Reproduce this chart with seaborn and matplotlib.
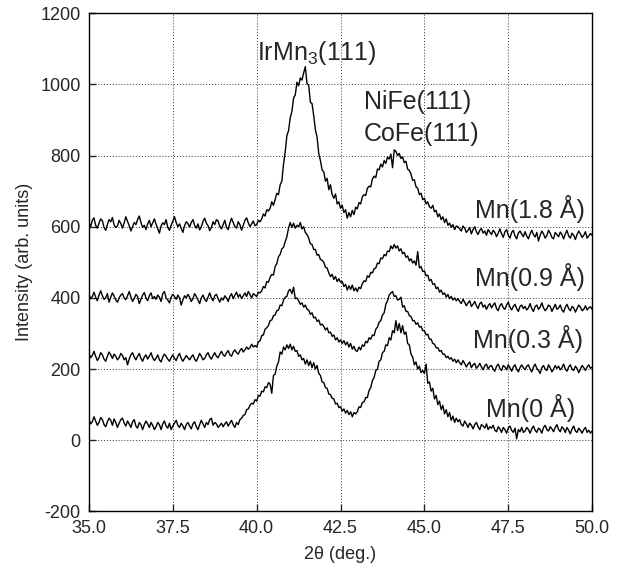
import numpy as np
import pandas as pd
import seaborn as sns
import matplotlib
matplotlib.use("Agg")
import matplotlib.pyplot as plt
from matplotlib.ticker import MultipleLocator, StrMethodFormatter

# XRD scans of the stacks, 2theta from 35 to 50 deg in 0.05 deg steps
two_theta = np.linspace(35.0, 50.0, 301)

mn_18 = [
    612, 600, 618, 625, 604, 596, 610, 622, 617, 598, 590, 606, 620, 614, 626, 605, 598, 602, 618, 609,
    596, 611, 628, 615, 603, 588, 600, 612, 606, 620, 630, 612, 598, 604, 592, 608, 618, 600, 611, 622,
    607, 595, 582, 602, 611, 606, 620, 598, 590, 604, 615, 628, 612, 600, 608, 596, 584, 603, 614, 609,
    599, 612, 620, 604, 596, 608, 591, 600, 615, 624, 610, 603, 589, 598, 614, 606, 620, 616, 601, 594,
    606, 618, 598, 592, 610, 624, 612, 600, 596, 614, 606, 590, 604, 618, 625, 611, 600, 608, 616, 603,
    606, 618, 614, 622, 636, 630, 648, 644, 652, 670, 660, 676, 694, 690, 718, 728, 776, 810, 856, 870,
    906, 924, 962, 970, 1006, 996, 1018, 1012, 1032, 1050, 1002, 998, 950, 946, 912, 872, 852, 806, 786, 760,
    754, 728, 736, 704, 718, 690, 680, 692, 664, 670, 652, 660, 640, 648, 624, 640, 628, 646, 634, 655,
    650, 668, 664, 684, 690, 688, 708, 714, 712, 734, 742, 738, 762, 760, 776, 768, 786, 778, 796, 790,
    804, 766, 816, 812, 800, 806, 792, 796, 780, 784, 762, 758, 748, 730, 732, 712, 708, 690, 694, 676,
    680, 664, 670, 656, 652, 660, 642, 646, 628, 636, 620, 628, 612, 622, 604, 610, 598, 606, 592, 602,
    600, 594, 588, 602, 596, 584, 590, 598, 580, 592, 600, 586, 578, 590, 595, 582, 588, 576, 592, 585,
    578, 590, 584, 572, 582, 594, 580, 570, 586, 592, 576, 568, 584, 590, 574, 566, 582, 588, 579, 572,
    586, 574, 566, 580, 590, 578, 571, 584, 560, 576, 588, 580, 568, 575, 590, 582, 570, 566, 584, 578,
    572, 585, 578, 566, 580, 590, 574, 568, 582, 576, 564, 578, 588, 580, 570, 576, 586, 568, 574, 581,
    576,
]

mn_09 = [
    410, 398, 404, 416, 402, 392, 408, 420, 406, 396, 400, 412, 388, 402, 414, 405, 394, 388, 400, 408,
    412, 400, 395, 406, 418, 403, 390, 398, 410, 404, 384, 396, 408, 415, 400, 392, 406, 414, 398, 404,
    396, 408, 402, 390, 412, 418, 400, 394, 386, 402, 410, 404, 396, 408, 400, 380, 394, 406, 400, 410,
    402, 390, 398, 412, 404, 394, 384, 400, 408, 396, 390, 402, 414, 400, 392, 406, 410, 398, 388, 400,
    394, 406, 400, 390, 404, 412, 398, 408, 416, 402, 410, 398, 406, 414, 404, 418, 410, 400, 412, 408,
    404, 416, 414, 420, 432, 428, 446, 444, 458, 466, 464, 488, 496, 516, 522, 538, 542, 558, 572, 596,
    612, 598, 610, 596, 604, 600, 612, 594, 600, 584, 578, 568, 552, 550, 536, 536, 520, 522, 508, 506,
    500, 486, 484, 470, 460, 466, 452, 460, 446, 454, 444, 446, 432, 438, 422, 434, 424, 436, 420, 428,
    418, 430, 426, 440, 448, 446, 462, 458, 472, 470, 482, 484, 498, 496, 512, 510, 522, 518, 532, 530,
    546, 538, 550, 540, 546, 532, 538, 524, 528, 514, 518, 504, 510, 498, 504, 492, 530, 484, 488, 474,
    476, 462, 464, 448, 452, 438, 440, 426, 430, 416, 422, 410, 414, 402, 410, 398, 404, 394, 400, 392,
    398, 390, 384, 396, 388, 378, 386, 392, 376, 382, 390, 378, 370, 384, 388, 374, 380, 368, 378, 384,
    372, 380, 386, 370, 364, 378, 384, 372, 368, 380, 388, 374, 366, 376, 382, 370, 362, 376, 380, 370,
    376, 366, 372, 384, 370, 362, 376, 380, 368, 374, 386, 372, 364, 370, 380, 376, 362, 372, 382, 368,
    372, 380, 366, 360, 374, 382, 370, 364, 376, 372, 360, 370, 380, 374, 364, 368, 378, 366, 372, 375,
    368,
]

mn_03 = [
    244, 232, 238, 250, 236, 224, 232, 246, 240, 228, 222, 236, 248, 240, 230, 242, 236, 226, 232, 244,
    238, 226, 232, 212, 228, 240, 246, 234, 226, 236, 244, 230, 222, 234, 240, 228, 236, 246, 232, 224,
    230, 240, 226, 220, 234, 242, 236, 228, 222, 232, 240, 230, 224, 236, 244, 230, 222, 230, 238, 232,
    226, 234, 240, 228, 222, 232, 244, 236, 226, 230, 240, 246, 234, 228, 238, 246, 236, 232, 242, 250,
    240, 236, 246, 252, 240, 236, 248, 254, 246, 242, 252, 258, 248, 254, 262, 256, 260, 270, 262, 266,
    262, 276, 280, 294, 296, 312, 316, 322, 336, 338, 350, 352, 364, 366, 380, 378, 394, 402, 404, 420,
    424, 412, 430, 398, 400, 392, 382, 386, 374, 380, 368, 366, 354, 358, 344, 346, 334, 338, 324, 326,
    320, 310, 316, 302, 304, 292, 296, 282, 288, 276, 282, 272, 280, 268, 276, 262, 272, 256, 264, 252,
    250, 262, 254, 268, 264, 278, 274, 288, 284, 296, 294, 312, 318, 332, 336, 352, 358, 382, 392, 408,
    414, 418, 404, 406, 394, 396, 402, 374, 378, 362, 362, 350, 348, 336, 336, 326, 330, 318, 320, 308,
    308, 296, 298, 284, 284, 272, 270, 260, 260, 250, 252, 242, 242, 232, 236, 228, 232, 222, 228, 218,
    226, 218, 212, 224, 216, 206, 214, 220, 204, 212, 216, 202, 208, 216, 206, 198, 210, 214, 200, 208,
    210, 200, 194, 208, 214, 202, 196, 210, 206, 198, 212, 204, 194, 206, 212, 200, 192, 204, 212, 204,
    198, 208, 212, 200, 192, 206, 214, 202, 196, 188, 204, 210, 200, 196, 212, 204, 192, 200, 210, 202,
    208, 198, 204, 214, 200, 194, 206, 212, 200, 196, 208, 202, 190, 200, 210, 204, 196, 206, 212, 202,
    206,
]

mn_00 = [
    58, 46, 52, 66, 54, 42, 50, 64, 58, 44, 38, 52, 62, 56, 42, 60, 50, 36, 48, 58,
    62, 48, 40, 54, 46, 36, 52, 58, 40, 34, 50, 44, 30, 44, 54, 46, 36, 50, 42, 30,
    38, 50, 44, 30, 46, 54, 40, 34, 48, 30, 40, 48, 56, 42, 36, 48, 40, 30, 44, 50,
    40, 32, 46, 52, 38, 30, 44, 56, 46, 36, 50, 44, 58, 62, 42, 50, 46, 36, 42, 48,
    38, 46, 52, 40, 48, 56, 44, 36, 50, 44, 58, 62, 70, 72, 86, 88, 98, 104, 102, 114,
    110, 126, 124, 138, 136, 150, 148, 162, 158, 132, 182, 186, 208, 220, 248, 242, 262, 254, 268, 258,
    270, 254, 264, 250, 252, 236, 240, 226, 230, 214, 226, 210, 222, 204, 218, 200, 210, 188, 182, 164,
    162, 148, 146, 130, 128, 118, 116, 102, 104, 92, 94, 82, 88, 76, 84, 72, 80, 66, 78, 74,
    80, 94, 92, 106, 108, 120, 120, 140, 148, 168, 176, 196, 200, 222, 226, 246, 250, 268, 266, 288,
    282, 308, 302, 336, 308, 328, 302, 322, 298, 304, 272, 268, 242, 234, 212, 220, 200, 208, 190, 196,
    188, 214, 160, 164, 138, 146, 116, 126, 100, 110, 86, 98, 74, 86, 66, 78, 56, 68, 50, 62,
    52, 58, 44, 40, 54, 46, 36, 48, 42, 32, 44, 50, 38, 30, 44, 40, 34, 46, 30, 38,
    34, 42, 28, 24, 38, 32, 22, 36, 30, 20, 34, 40, 28, 22, 34, 4, 30, 24, 36, 22,
    26, 36, 30, 20, 32, 40, 28, 22, 34, 30, 20, 36, 42, 30, 26, 38, 32, 24, 36, 44,
    30, 24, 38, 32, 22, 36, 28, 18, 32, 40, 26, 22, 34, 28, 20, 30, 36, 22, 28, 20,
    26,
]

series_names = ["Mn(1.8 Å)", "Mn(0.9 Å)", "Mn(0.3 Å)", "Mn(0 Å)"]
series_values = [mn_18, mn_09, mn_03, mn_00]

sns.set_style("ticks")
plt.rcParams["font.family"] = ["Liberation Sans", "DejaVu Sans"]
plt.rcParams["mathtext.fontset"] = "custom"
plt.rcParams["mathtext.rm"] = "Liberation Sans"
plt.rcParams["mathtext.it"] = "Liberation Sans:italic"
plt.rcParams["axes.unicode_minus"] = False

df = pd.concat(
    [pd.DataFrame({"two_theta": two_theta, "intensity": v, "sample": n})
     for n, v in zip(series_names, series_values)],
    ignore_index=True,
)

fig, ax = plt.subplots(figsize=(6.22, 5.74), dpi=100)
fig.subplots_adjust(left=0.143, right=0.952, top=0.977, bottom=0.109)

sns.lineplot(data=df, x="two_theta", y="intensity", hue="sample",
             palette=["black"] * 4, linewidth=1.0, legend=False, ax=ax,
             estimator=None, sort=False)

ax.set_xlim(35, 50)
ax.set_ylim(-200, 1200)
ax.xaxis.set_major_locator(MultipleLocator(2.5))
ax.xaxis.set_major_formatter(StrMethodFormatter("{x:.1f}"))
ax.yaxis.set_major_locator(MultipleLocator(200))
ax.grid(True, linestyle=(0, (1, 2)), color="black", linewidth=0.7, alpha=0.8)
ax.tick_params(direction="in", length=5, width=1, labelsize=13, pad=6)
for s in ax.spines.values():
    s.set_linewidth(1.0)
    s.set_color("black")

ax.set_xlabel("2θ (deg.)", fontsize=13, labelpad=7)
ax.set_ylabel("Intensity (arb. units)", fontsize=13, labelpad=5)

# peak labels
ax.text(41.8, 1069, r"IrMn$_3$(111)", fontsize=18, ha="center", va="baseline")
ax.text(43.2, 930, "NiFe(111)", fontsize=18, ha="left", va="baseline")
ax.text(43.2, 842, "CoFe(111)", fontsize=18, ha="left", va="baseline")

# sample labels
label_x = [49.79, 49.79, 49.73, 49.5]
label_y = [624, 433, 258, 64]
for name, lx, ly in zip(series_names, label_x, label_y):
    ax.text(lx, ly, name, fontsize=18, ha="right", va="baseline")

plt.savefig("out.png", dpi=100)
